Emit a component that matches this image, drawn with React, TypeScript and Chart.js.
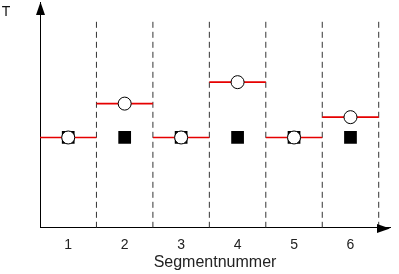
import React, { useEffect, useRef } from "react";
import { Chart, registerables } from "chart.js";

Chart.register(...registerables);

const segments = [1, 2, 3, 4, 5, 6];
const redLevels = [4, 5.5, 4, 6.45, 4, 4.9];
const circleValues = [4, 5.5, 4, 6.45, 4, 4.9];
const squareValues = [4, 4, 4, 4, 4, 4];
const boundaries = [1.5, 2.5, 3.5, 4.5, 5.5, 6.5];
const dashTop = 9.25;
const xTitle = "Segmentnummer";
const yTitle = "T";

const FONT = "'Liberation Sans', Arial, sans-serif";

export default function App() {
  const ref = useRef<HTMLCanvasElement>(null);

  useEffect(() => {
    if (!ref.current) return;

    const redData: any[] = [];
    segments.forEach((s, i) => {
      redData.push({ x: s - 0.5, y: redLevels[i] });
      redData.push({ x: s + 0.5, y: redLevels[i] });
      redData.push({ x: s + 0.5, y: null });
    });
    const dashData: any[] = [];
    boundaries.forEach((b) => {
      dashData.push({ x: b, y: 0 });
      dashData.push({ x: b, y: dashTop });
      dashData.push({ x: b, y: null });
    });

    const arrows = {
      id: "arrows",
      afterDraw(chart: any) {
        const { ctx, chartArea } = chart;
        ctx.save();
        ctx.fillStyle = "#000";
        const lx = Math.round(chartArea.left) + 0.5;
        ctx.beginPath();
        ctx.moveTo(lx, chartArea.top);
        ctx.lineTo(lx - 4.5, chartArea.top + 13);
        ctx.lineTo(lx + 4.5, chartArea.top + 13);
        ctx.closePath();
        ctx.fill();
        const by = Math.round(chartArea.bottom) + 0.5;
        ctx.beginPath();
        ctx.moveTo(chartArea.right, by);
        ctx.lineTo(chartArea.right - 13, by - 4.5);
        ctx.lineTo(chartArea.right - 13, by + 4.5);
        ctx.closePath();
        ctx.fill();
        ctx.font = "14px " + FONT;
        ctx.textAlign = "center";
        ctx.textBaseline = "middle";
        ctx.fillStyle = "#111";
        ctx.fillText(yTitle, 6, 12);
        ctx.restore();
      },
    };

    const chart = new Chart(ref.current, {
      type: "line",
      data: {
        datasets: [
          {
            label: "circles",
            data: segments.map((s, i) => ({ x: s, y: circleValues[i] })),
            showLine: false,
            pointStyle: "circle",
            pointRadius: 6.5,
            pointBackgroundColor: "#fff",
            pointBorderColor: "#000",
            pointBorderWidth: 1,
          },
          {
            label: "squares",
            data: segments.map((s, i) => ({ x: s, y: squareValues[i] })),
            showLine: false,
            pointStyle: "rect",
            pointRadius: 9,
            pointBackgroundColor: "#000",
            pointBorderColor: "#000",
            pointBorderWidth: 0,
          },
          {
            label: "levels",
            data: redData,
            borderColor: "#e60000",
            borderWidth: 1.7,
            pointRadius: 0,
            spanGaps: false,
          },
          {
            label: "bounds",
            data: dashData,
            borderColor: "#333",
            borderWidth: 1,
            borderDash: [6, 4],
            pointRadius: 0,
            spanGaps: false,
          },
        ],
      },
      options: {
        responsive: false,
        animation: false,
        events: [],
        layout: { autoPadding: false, padding: { left: 40, top: 2, right: 9, bottom: 0 } },
        plugins: {
          legend: { display: false },
          tooltip: { enabled: false },
          title: { display: false },
        },
        scales: {
          x: {
            type: "linear",
            min: 0.5,
            max: 6.7,
            grid: { display: false, drawTicks: false },
            border: { display: true, color: "#000", width: 1 },
            afterBuildTicks: (axis: any) => {
              axis.ticks = segments.map((v) => ({ value: v }));
            },
            ticks: {
              color: "#222",
              padding: 10,
              font: { family: FONT, size: 14, lineHeight: 1 },
              callback: (v: any) => String(v),
            },
            title: {
              display: true,
              text: xTitle,
              color: "#222",
              font: { family: FONT, size: 16, lineHeight: 1.2 },
              padding: { top: -9, bottom: 2 },
            },
          },
          y: {
            type: "linear",
            min: 0,
            max: 10,
            grid: { display: false, drawTicks: false },
            border: { display: true, color: "#000", width: 1 },
            ticks: { display: false },
          },
        },
      },
      plugins: [arrows],
    });
    return () => chart.destroy();
  }, []);

  return (
    <div style={{ position: "absolute", left: 0, top: 0, width: 399, height: 274, background: "#fff" }}>
      <canvas ref={ref} width={399} height={274} />
    </div>
  );
}
